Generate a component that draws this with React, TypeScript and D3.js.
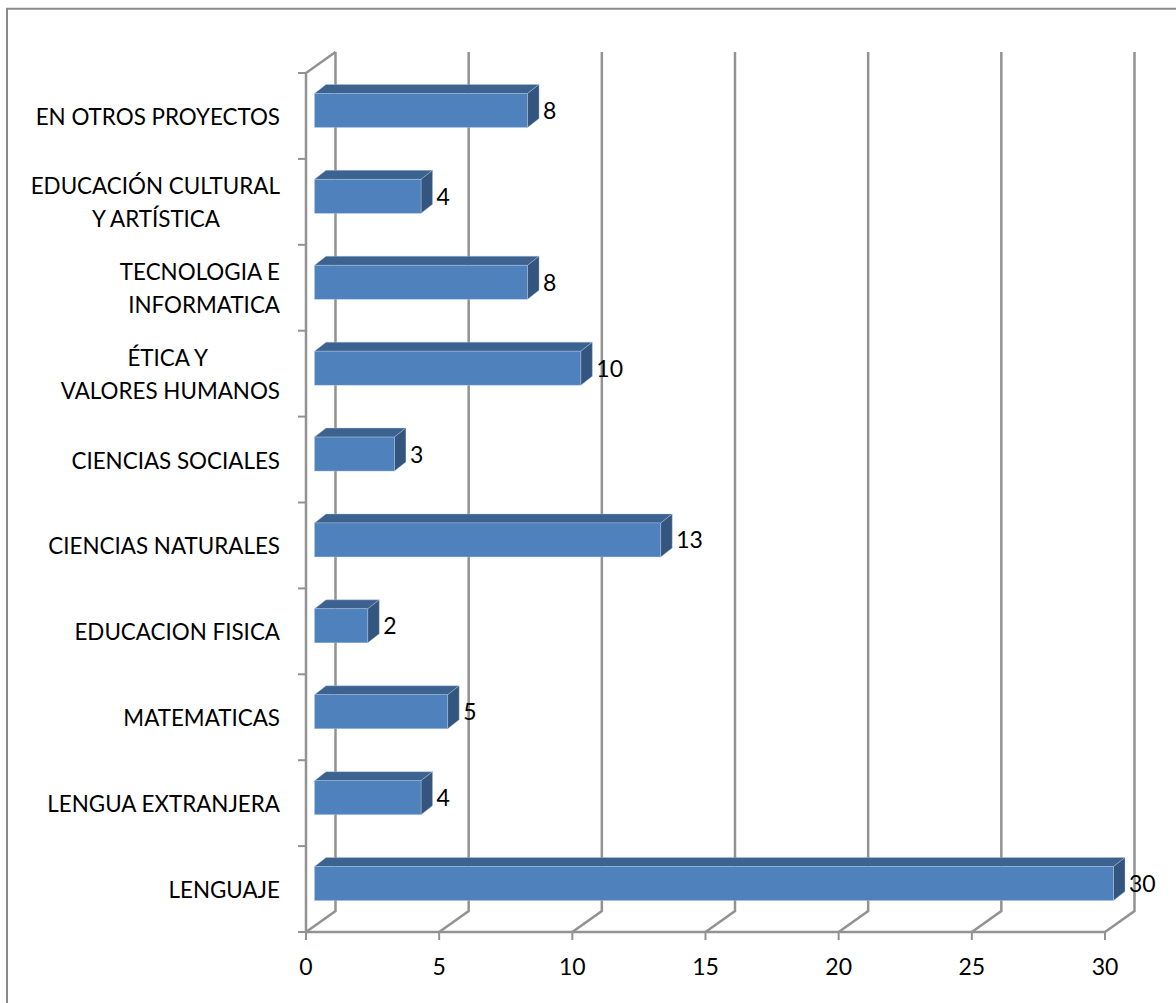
import React from "react";
import * as d3 from "d3";

const categories = ["EN OTROS PROYECTOS", "EDUCACIÓN CULTURAL|Y ARTÍSTICA", "TECNOLOGIA E|INFORMATICA", "ÉTICA Y|VALORES HUMANOS", "CIENCIAS SOCIALES", "CIENCIAS NATURALES", "EDUCACION FISICA", "MATEMATICAS", "LENGUA EXTRANJERA", "LENGUAJE"];
const values = [8, 4, 8, 10, 3, 13, 2, 5, 4, 30];
const xTicks = [0, 5, 10, 15, 20, 25, 30];

const W = 1176, H = 1003;
const FONT = "Lato, Carlito, Calibri, sans-serif";
const x = d3.scaleLinear().domain([0, 30]).range([306, 1105]);
const y = d3.scaleBand<number>().domain(d3.range(categories.length)).range([73, 932]);
const WALL_DX = 29.5, WALL_DY = -21;
const BAR_DX = 11.5, BAR_DY = -9, BAR_OFF = 8.5, BAR_H = 34;
const AXIS = "#929292";
const LINE_INSET: Record<string, number> = { "Y ARTÍSTICA": 60, "ÉTICA Y": 72 };

export default function App() {
  const poly = (p: number[][]) => p.map(q => q.join(",")).join(" ");
  return (
    <svg width={W} height={H} style={{ position: "absolute", left: 0, top: 0, background: "#fff" }} fontFamily={FONT}>
      <path d={`M7,${H} V8.75 H${W}`} fill="none" stroke="#8a8a8a" strokeWidth={2} />
      {xTicks.map(t => (
        <path key={t} d={`M${x(t)},932 L${x(t) + WALL_DX},911 L${x(t) + WALL_DX},${73 + WALL_DY}`} fill="none" stroke={AXIS} strokeWidth={2.5} />
      ))}
      <path d={`M306,${73} L${306 + WALL_DX},${73 + WALL_DY}`} fill="none" stroke={AXIS} strokeWidth={2.5} />
      <path d="M306,73 V932 H1105" fill="none" stroke={AXIS} strokeWidth={2.5} />
      {d3.range(categories.length + 1).map(i => {
        const yy = 73 + i * y.step();
        return <line key={i} x1={298} x2={306} y1={yy} y2={yy} stroke={AXIS} strokeWidth={2} />;
      })}
      {xTicks.map(t => <line key={t} x1={x(t)} x2={x(t)} y1={932} y2={940} stroke={AXIS} strokeWidth={2} />)}
      {xTicks.map(t => (
        <text key={t} x={x(t)} y={975} fontSize={23} textAnchor="middle" fill="#000">{t}</text>
      ))}
      {categories.map((c, i) => {
        const v = values[i];
        const cy = (y(i) as number) + y.bandwidth() / 2 - 5.5;
        const x0 = x(0) + BAR_OFF, x1 = x(v) + BAR_OFF, t = cy - BAR_H / 2, b = cy + BAR_H / 2;
        const lines = c.split("|");
        return (
          <g key={c}>
            <polygon points={poly([[x0, t], [x0 + BAR_DX, t + BAR_DY], [x1 + BAR_DX, t + BAR_DY], [x1, t]])} fill="#3c6290" stroke="#b5c8e0" strokeWidth={0.4} />
            <polygon points={poly([[x1, t], [x1 + BAR_DX, t + BAR_DY], [x1 + BAR_DX, b + BAR_DY], [x1, b]])} fill="#34557d" stroke="#b5c8e0" strokeWidth={0.4} />
            <rect x={x0} y={t} width={x1 - x0} height={BAR_H} fill="#4f81bd" stroke="#b5c8e0" strokeWidth={0.4} />
            <text x={x1 + 15.5} y={cy + 8.5} fontSize={23} fill="#000">{v}</text>
            {lines.map((l, k) => (
              <text key={k} x={280 - (LINE_INSET[l] ?? 0)} y={cy + 14.5 + (k - (lines.length - 1) / 2) * 33} fontSize={22.4} textAnchor="end" fill="#000">{l}</text>
            ))}
          </g>
        );
      })}
    </svg>
  );
}
